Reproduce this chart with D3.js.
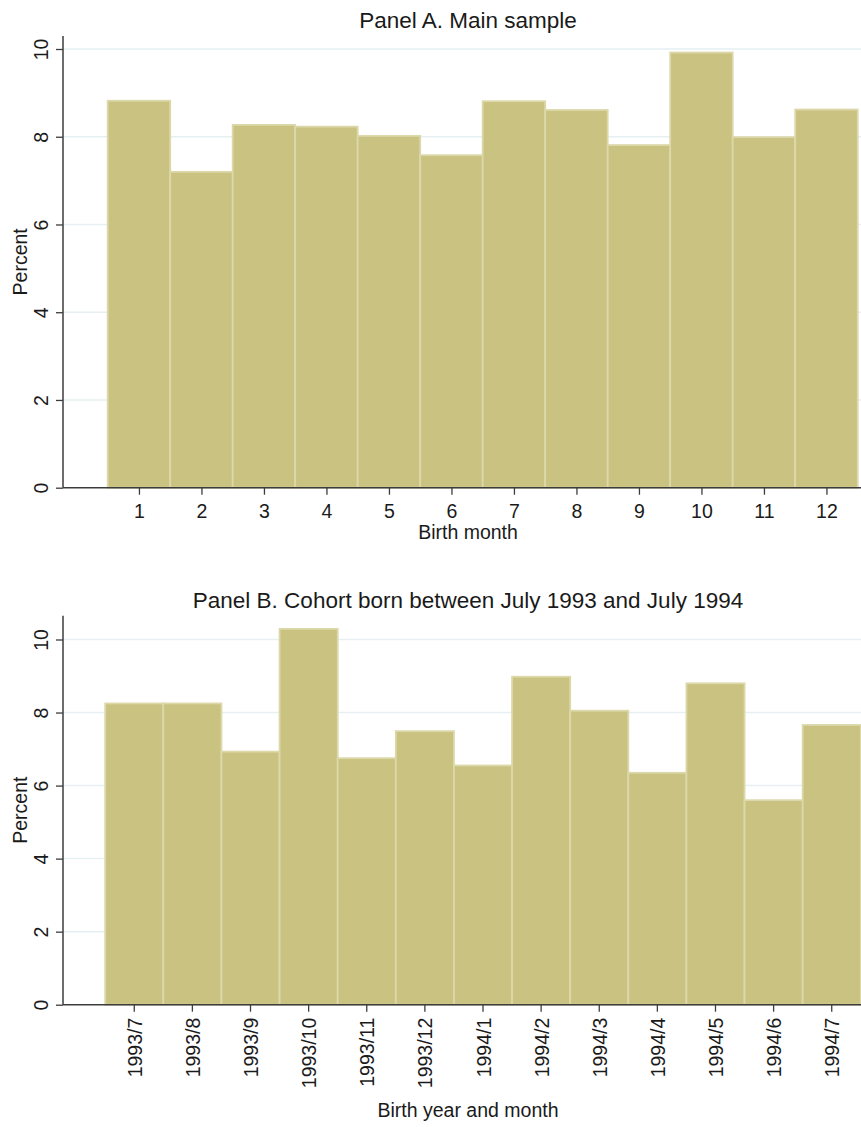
<!DOCTYPE html>
<html>
<head>
<meta charset="utf-8">
<script src="https://cdn.jsdelivr.net/npm/d3@7"></script>
<style>
  html, body { margin: 0; padding: 0; background: #fff; }
  svg { display: block; font-family: "Liberation Sans", Arial, sans-serif; }
</style>
</head>
<body>
<svg id="chart" width="861" height="1127"></svg>
<script>
// Birth-month distribution, main sample (percent)
const months = [1, 2, 3, 4, 5, 6, 7, 8, 9, 10, 11, 12];
const mainSample = [8.82, 7.20, 8.27, 8.23, 8.02, 7.58, 8.81, 8.61, 7.81, 9.92, 7.99, 8.62];

// Cohort born between July 1993 and July 1994 (percent)
const cohortLabels = ["1993/7", "1993/8", "1993/9", "1993/10", "1993/11", "1993/12",
  "1994/1", "1994/2", "1994/3", "1994/4", "1994/5", "1994/6", "1994/7"];
const cohortValues = [8.25, 8.25, 6.93, 10.29, 6.75, 7.49, 6.55, 8.98, 8.05, 6.35, 8.80, 5.60, 7.66];

const yTicks = [0, 2, 4, 6, 8, 10];

const svg = d3.select("#chart");
const TEXT = "#1a1a1a";
const AXIS = "#3c3c3c";
const GRID = "#e6eff1";
const BAR_FILL = "#c9c280";
const BAR_EDGE = "#dcd8aa";

function panel(opts) {
  const g = svg.append("g");
  const { left, right, top, bottom, y } = opts;

  // horizontal grid lines
  g.append("g").selectAll("line")
    .data(yTicks.filter(d => d > 0))
    .join("line")
    .attr("x1", left).attr("x2", right)
    .attr("y1", d => y(d)).attr("y2", d => y(d))
    .attr("stroke", GRID).attr("stroke-width", 1.5);

  // bars
  g.append("g").selectAll("rect")
    .data(opts.values)
    .join("rect")
    .attr("x", (d, i) => opts.barX0(i))
    .attr("width", (d, i) => opts.barX1(i) - opts.barX0(i))
    .attr("y", d => y(d))
    .attr("height", d => y(0) - y(d))
    .attr("fill", BAR_FILL)
    .attr("stroke", BAR_EDGE)
    .attr("stroke-width", 1.8);

  // y axis
  const yAxis = g.append("g")
    .attr("transform", `translate(${left},0)`)
    .call(d3.axisLeft(y).tickValues(yTicks).tickSize(7).tickSizeOuter(0));
  yAxis.select(".domain").remove();
  yAxis.selectAll(".tick line").attr("stroke", AXIS).attr("stroke-width", 1.3);
  yAxis.selectAll(".tick text")
    .attr("transform", "rotate(-90)")
    .attr("x", 0).attr("y", -15).attr("dy", 0)
    .attr("text-anchor", "middle")
    .attr("fill", TEXT)
    .style("font-size", "19.5px");
  g.append("line")
    .attr("x1", left).attr("x2", left)
    .attr("y1", top).attr("y2", bottom)
    .attr("stroke", AXIS).attr("stroke-width", 1.5);

  // x axis
  const xAxis = g.append("g")
    .attr("transform", `translate(0,${bottom})`)
    .call(opts.xAxis.tickSize(7).tickSizeOuter(0));
  xAxis.select(".domain").remove();
  xAxis.selectAll(".tick line").attr("stroke", AXIS).attr("stroke-width", 1.3);
  xAxis.selectAll(".tick text").attr("fill", TEXT).style("font-size", "19.5px");
  opts.styleXText(xAxis.selectAll(".tick text"));
  g.append("line")
    .attr("x1", left).attr("x2", right)
    .attr("y1", bottom).attr("y2", bottom)
    .attr("stroke", AXIS).attr("stroke-width", 1.5);

  // titles
  g.append("text")
    .attr("x", 468).attr("y", opts.titleY)
    .attr("text-anchor", "middle")
    .attr("fill", TEXT).style("font-size", "22.5px")
    .text(opts.title);
  g.append("text")
    .attr("x", 468).attr("y", opts.xTitleY)
    .attr("text-anchor", "middle")
    .attr("fill", TEXT).style("font-size", "19.5px")
    .text(opts.xTitle);
  g.append("text")
    .attr("transform", `translate(26.5,${(top + bottom) / 2}) rotate(-90)`)
    .attr("text-anchor", "middle")
    .attr("fill", TEXT).style("font-size", "19.5px")
    .text("Percent");
}

// Panel A
const xA = d3.scaleLinear().domain([0.5, 12.5]).range([107.7, 857.7]);
const yA = d3.scaleLinear().domain([0, 10]).range([487.7, 49]);
panel({
  left: 63, right: 861, top: 36, bottom: 487.7,
  y: yA,
  values: mainSample,
  barX0: i => xA(months[i] - 0.5),
  barX1: i => xA(months[i] + 0.5),
  xAxis: d3.axisBottom(xA).tickValues(months).tickFormat(d3.format("d")),
  styleXText: sel => sel.attr("y", 30).attr("dy", 0),
  title: "Panel A. Main sample",
  titleY: 28,
  xTitle: "Birth month",
  xTitleY: 539
});

// Panel B
const xB = d3.scaleBand().domain(cohortLabels).range([105.2, 860.8]).padding(0);
const yB = d3.scaleLinear().domain([0, 10]).range([1004.7, 639.5]);
panel({
  left: 63, right: 861, top: 615.7, bottom: 1004.7,
  y: yB,
  values: cohortValues,
  barX0: i => xB(cohortLabels[i]),
  barX1: i => xB(cohortLabels[i]) + xB.bandwidth(),
  xAxis: d3.axisBottom(xB),
  styleXText: sel => sel
    .attr("transform", "rotate(-90)")
    .attr("x", -13).attr("y", 7.5).attr("dy", 0)
    .attr("text-anchor", "end"),
  title: "Panel B. Cohort born between July 1993 and July 1994",
  titleY: 608,
  xTitle: "Birth year and month",
  xTitleY: 1117
});
</script>
</body>
</html>
